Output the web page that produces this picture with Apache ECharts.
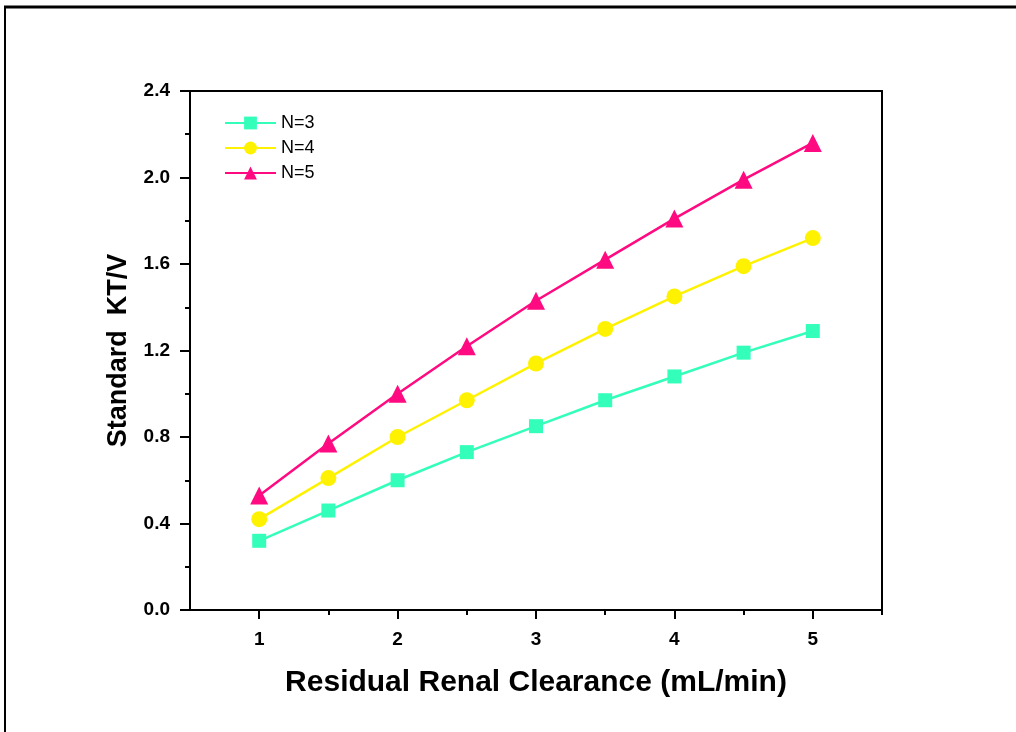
<!DOCTYPE html>
<html>
<head>
<meta charset="utf-8">
<script src="https://cdn.jsdelivr.net/npm/echarts@6/dist/echarts.min.js"></script>
<style>
  html, body { margin: 0; padding: 0; background: #fff; }
  #chart { width: 1016px; height: 732px; }
</style>
</head>
<body>
<div id="chart"></div>
<script>
// residual renal clearance (mL/min)
var clearance = [1, 1.5, 2, 2.5, 3, 3.5, 4, 4.5, 5];
var n3 = [0.32, 0.46, 0.60, 0.73, 0.85, 0.97, 1.08, 1.19, 1.29];
var n4 = [0.42, 0.61, 0.80, 0.97, 1.14, 1.30, 1.45, 1.59, 1.72];
var n5 = [0.53, 0.77, 1.00, 1.22, 1.43, 1.62, 1.81, 1.99, 2.16];
var seriesNames = ['N=3', 'N=4', 'N=5'];
var xMajor = [1, 2, 3, 4, 5];
var xMinor = [1.5, 2.5, 3.5, 4.5, 5.5];

var font = 'Arial, "Liberation Sans", sans-serif';

function pairs(ys) {
    return clearance.map(function (x, i) { return [x, ys[i]]; });
}

var chart = echarts.init(document.getElementById('chart'));

chart.setOption({
    animation: false,
    color: ['#33FFBB', '#FFF200', '#FF0A80'],
    graphic: [
        // outer frame (top + left)
        { type: 'line', shape: { x1: 4, y1: 7, x2: 1016, y2: 7 }, style: { stroke: '#000', lineWidth: 3 } },
        { type: 'line', shape: { x1: 5, y1: 7, x2: 5, y2: 732 }, style: { stroke: '#000', lineWidth: 2 } }
    ],
    legend: {
        orient: 'vertical',
        left: 219,
        top: 109,
        itemWidth: 51,
        itemHeight: 16,
        itemGap: 7,
        data: seriesNames,
        textStyle: { fontFamily: font, fontSize: 18, color: '#000' }
    },
    grid: { //绘图区
        left: 190,
        right: 134,
        top: 91,
        bottom: 122
    },
    xAxis: [
        {
            type: 'value',
            min: 0.5,
            max: 5.5,
            position: 'bottom',
            name: 'Residual Renal Clearance (mL/min)',
            nameLocation: 'middle',
            nameGap: 58,
            nameTextStyle: { fontFamily: font, fontSize: 30, fontWeight: 'bold', color: '#000' },
            axisLine: { lineStyle: { color: '#000', width: 2 } },
            axisTick: { customValues: xMajor, length: 9, lineStyle: { color: '#000', width: 2 } },
            axisLabel: {
                customValues: xMajor,
                margin: 20,
                fontFamily: font, fontSize: 19, fontWeight: 'bold', color: '#000'
            },
            splitLine: { show: false }
        },
        {
            // minor ticks at the half steps
            type: 'value',
            min: 0.5,
            max: 5.5,
            position: 'bottom',
            axisLine: { show: false },
            axisTick: { customValues: xMinor, length: 5, lineStyle: { color: '#000', width: 2 } },
            axisLabel: { show: false },
            splitLine: { show: false }
        },
        {
            // top frame line
            type: 'value',
            min: 0.5,
            max: 5.5,
            position: 'top',
            axisLine: { lineStyle: { color: '#000', width: 2 } },
            axisTick: { show: false },
            axisLabel: { show: false },
            splitLine: { show: false }
        }
    ],
    yAxis: [
        {
            type: 'value',
            min: 0,
            max: 2.4,
            interval: 0.4,
            name: 'Standard  KT/V',
            nameLocation: 'middle',
            nameGap: 58,
            nameTextStyle: { fontFamily: font, fontSize: 27, fontWeight: 'bold', color: '#000' },
            axisLine: { show: true, lineStyle: { color: '#000', width: 2 } },
            axisTick: { show: true, length: 10, lineStyle: { color: '#000', width: 2 } },
            minorTick: { show: true, splitNumber: 2, length: 5, lineStyle: { color: '#000', width: 2 } },
            axisLabel: {
                margin: 20,
                formatter: function (v) { return v.toFixed(1); },
                fontFamily: font, fontSize: 19, fontWeight: 'bold', color: '#000'
            },
            splitLine: { show: false }
        },
        {
            // right frame line
            type: 'value',
            min: 0,
            max: 2.4,
            position: 'right',
            axisLine: { show: true, lineStyle: { color: '#000', width: 2 } },
            axisTick: { show: false },
            axisLabel: { show: false },
            splitLine: { show: false }
        }
    ],
    series: [
        {
            name: 'N=3',
            type: 'line',
            symbol: 'rect',
            symbolSize: 14,
            lineStyle: { width: 2.5 },
            data: pairs(n3)
        },
        {
            name: 'N=4',
            type: 'line',
            symbol: 'circle',
            symbolSize: 16,
            lineStyle: { width: 2.5 },
            data: pairs(n4)
        },
        {
            name: 'N=5',
            type: 'line',
            symbol: 'triangle',
            symbolSize: 18,
            lineStyle: { width: 2.5 },
            data: pairs(n5)
        }
    ]
});
</script>
</body>
</html>
